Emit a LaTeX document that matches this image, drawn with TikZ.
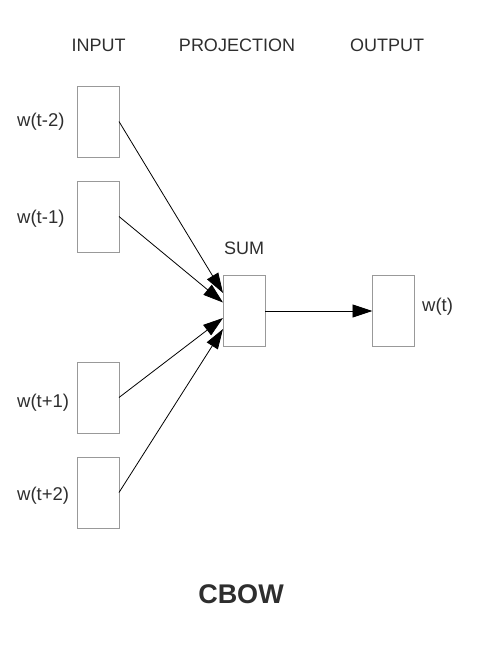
\documentclass[tikz,border=0pt]{standalone}
\usepackage{fontspec}
\setmainfont{Liberation Sans}
\usetikzlibrary{arrows.meta,calc}
\definecolor{txt}{HTML}{2E2E2E}
\definecolor{boxc}{HTML}{999999}
\begin{document}
\begin{tikzpicture}[x=1pt,y=-1pt,
  unit/.style={draw=boxc,line width=1pt,minimum width=42pt,minimum height=71pt,inner sep=0pt,outer sep=0pt},
  lbl/.style={text=txt,font=\fontsize{18.5}{20}\selectfont,inner sep=0pt},
  hdr/.style={text=txt,font=\fontsize{18}{20}\selectfont,inner sep=0pt},
  conn/.style={draw=black,line width=0.8pt,-{Triangle[length=20pt,width=13pt]}}]
\useasboundingbox (0,0) rectangle (478,654);
% headers
\node[hdr] (hin) at (98.5,45) {INPUT};
\node[hdr] (hproj) at (237,45) {PROJECTION};
\node[hdr] (hout) at (387,45) {OUTPUT};
% input boxes
\node[unit] (in1) at (98,121.5) {};
\node[unit] (in2) at (98,216.5) {};
\node[unit] (in3) at (98,397.5) {};
\node[unit] (in4) at (98,492.5) {};
\node[unit] (sum) at (244,311) {};
\node[unit] (out) at (393.5,311) {};
% labels
\node[lbl,anchor=west] (l1) at (17,122) {w(t-2)};
\node[lbl,anchor=west] (l2) at (17,219) {w(t-1)};
\node[lbl,anchor=west] (l3) at (17,403) {w(t+1)};
\node[lbl,anchor=west] (l4) at (17,496) {w(t+2)};
\node[lbl,anchor=west] (lo) at (422,307) {w(t)};
\node[hdr] (lsum) at (244,248) {SUM};
% connectors
\draw[conn] (in1.east) -- ([yshift=18pt]sum.west);
\draw[conn] (in2.east) -- ([yshift=8.5pt]sum.west);
\draw[conn] (in3.east) -- ([yshift=-7pt]sum.west);
\draw[conn] (in4.east) -- ([yshift=-18pt]sum.west);
\draw[conn] (sum.east) -- (out.west);
% title
\node[text=txt,font=\fontsize{27}{30}\selectfont\bfseries,inner sep=0pt] (title) at (241,594.5) {CBOW};
\end{tikzpicture}
\end{document}
